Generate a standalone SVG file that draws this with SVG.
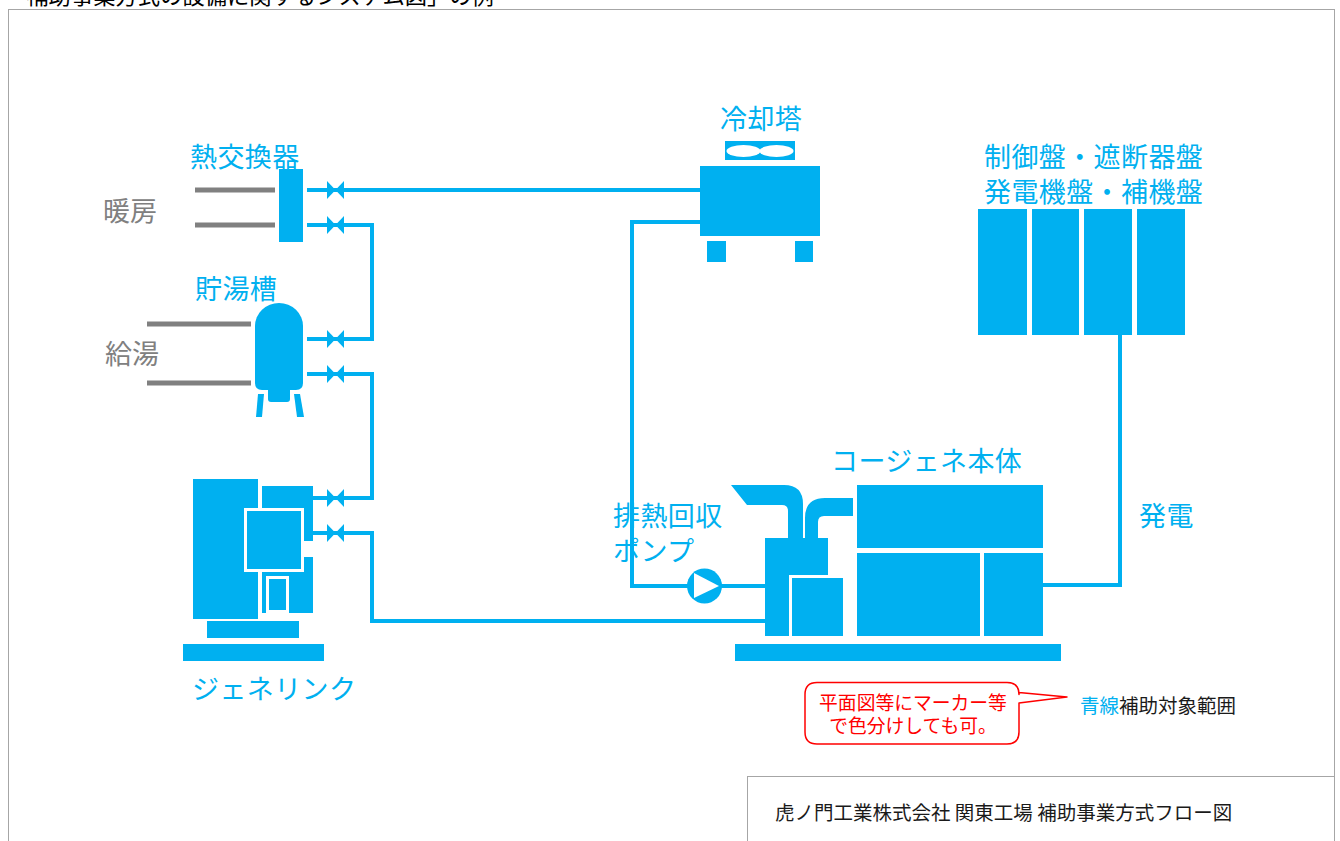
<svg xmlns="http://www.w3.org/2000/svg" width="1340" height="841" viewBox="0 0 1340 841">
  <style>
    .b { fill: #00b0f0; }
    .pipe { fill: none; stroke: #00b0f0; stroke-width: 4; }
    .gray { fill: none; stroke: #808080; stroke-width: 5; }
    .lbl { font-family: "Noto Sans CJK JP", sans-serif; font-size: 27px; letter-spacing: 0.4px; fill: #00b0f0; }
    .glbl { font-family: "Noto Sans CJK JP", sans-serif; font-size: 27px; fill: #808080; }
    .note { font-family: "Noto Sans CJK JP", sans-serif; font-size: 18.8px; fill: #ff0000; }
    .txt { font-family: "Noto Sans CJK JP", sans-serif; font-size: 19.5px; fill: #1a1a1a; }
    .wedge { stroke: #ffffff; stroke-width: 3; }
  </style>
  <defs>
    <!-- gate valve: two triangles meeting at the centre -->
    <g id="valve">
      <polygon class="b" points="-8.5,-9 -8.5,9 0,0"/>
      <polygon class="b" points="8.5,-9 8.5,9 0,0"/>
    </g>
  </defs>

  <rect width="1340" height="841" fill="#ffffff"/>

  <!-- page heading and frame -->
  <text x="4" y="4" font-family="Noto Sans CJK JP, sans-serif" font-size="22.3" fill="#000000">「補助事業方式の設備に関するシステム図」の例</text>
  <rect x="8.5" y="9.5" width="1326" height="850" fill="none" stroke="#a6a6a6" stroke-width="1"/>

  <!-- connectors -->
  <g id="connectors">
    <!-- heat exchanger upper line to cooling tower -->
    <line class="pipe" x1="307" y1="190" x2="701" y2="190"/>
    <!-- heat exchanger lower line to storage tank upper -->
    <polyline class="pipe" points="307,225 372,225 372,339 307,339"/>
    <!-- storage tank lower to genelink upper -->
    <polyline class="pipe" points="307,374 372,374 372,498 312,498"/>
    <!-- genelink lower to cogeneration -->
    <polyline class="pipe" points="300,533 372,533 372,621 792,621"/>
    <!-- cooling tower return via recovery pump -->
    <polyline class="pipe" points="701,222 632,222 632,586 766,586"/>
    <!-- generator output to switchgear -->
    <polyline class="pipe" points="1042,585 1120,585 1120,334"/>
    <!-- valves -->
    <use href="#valve" x="335.5" y="190"/>
    <use href="#valve" x="335.5" y="225"/>
    <use href="#valve" x="335.5" y="339"/>
    <use href="#valve" x="335.5" y="374"/>
    <use href="#valve" x="335.5" y="498"/>
    <use href="#valve" x="335.5" y="533"/>
  </g>

  <!-- heat exchanger -->
  <g id="heat-exchanger">
    <text class="lbl" x="190" y="167">熱交換器</text>
    <line class="gray" x1="195" y1="190" x2="275" y2="190"/>
    <line class="gray" x1="195" y1="225" x2="275" y2="225"/>
    <rect class="b" x="279" y="169" width="24" height="73"/>
    <text class="glbl" x="103" y="221">暖房</text>
  </g>

  <!-- hot water storage tank -->
  <g id="storage-tank">
    <text class="lbl" x="195" y="299">貯湯槽</text>
    <line class="gray" x1="147" y1="324" x2="251" y2="324"/>
    <line class="gray" x1="147" y1="383" x2="251" y2="383"/>
    <path class="b" d="M255,383 L255,326 A24,23 0 0 1 303,326 L303,383 Q303,390 296,390 L262,390 Q255,390 255,383 Z"/>
    <path class="b" d="M268,388 L290,388 L290,399 Q290,402 287,402 L271,402 Q268,402 268,399 Z"/>
    <polygon class="b" points="258,394 264,394 262,417 256,417"/>
    <polygon class="b" points="294,394 300,394 304,417 297,417"/>
    <text class="glbl" x="105" y="364">給湯</text>
  </g>

  <!-- absorption chiller-heater -->
  <g id="genelink">
    <rect class="b" x="193" y="479" width="65" height="140"/>
    <rect class="b" x="262" y="486" width="51" height="127"/>
    <rect x="303" y="541" width="11" height="16" fill="#ffffff"/>
    <rect class="b" x="300" y="531" width="13" height="6"/>
    <rect class="b wedge" x="245.5" y="509.5" width="57" height="61"/>
    <rect class="b wedge" x="267.5" y="577.5" width="20" height="34"/>
    <rect class="b" x="207" y="621" width="92" height="17"/>
    <rect class="b" x="183" y="644" width="141" height="17"/>
    <text class="lbl" x="192" y="699">ジェネリンク</text>
  </g>

  <!-- cooling tower -->
  <g id="cooling-tower">
    <text class="lbl" x="720" y="129">冷却塔</text>
    <rect class="b" x="725" y="141" width="70" height="19"/>
    <ellipse cx="743.5" cy="151" rx="17" ry="6" fill="#ffffff"/>
    <ellipse cx="776.5" cy="151" rx="17" ry="6" fill="#ffffff"/>
    <rect class="b" x="700" y="166" width="120" height="70"/>
    <rect class="b" x="707" y="241" width="19" height="21"/>
    <rect class="b" x="795" y="241" width="18" height="21"/>
  </g>

  <!-- exhaust heat recovery pump -->
  <g id="recovery-pump">
    <text class="lbl" x="613" y="526">排熱回収</text>
    <text class="lbl" x="613" y="561">ポンプ</text>
    <circle class="b" cx="704.5" cy="586" r="17.5"/>
    <polygon points="694,573 694,598 719,586" fill="#ffffff"/>
  </g>

  <!-- cogeneration unit -->
  <g id="cogeneration">
    <text class="lbl" x="831" y="471">コージェネ本体</text>
    <path class="b" d="M731,485 L784,485 Q803,485 803,504 L803,538 L788,538 L788,511 Q788,505 782,505 L747,505 Z"/>
    <path class="b" d="M853,498 L825,498 Q805,498 805,518 L805,538 L818,538 L818,522 Q818,516 824,516 L853,516 Z"/>
    <rect class="b" x="765" y="538" width="63" height="98"/>
    <rect class="b wedge" x="790.5" y="576.5" width="54" height="61"/>
    <rect class="b" x="857" y="485" width="186" height="63"/>
    <rect class="b" x="857" y="553" width="123" height="83"/>
    <rect class="b" x="984" y="553" width="59" height="83"/>
    <rect class="b" x="735" y="644" width="326" height="17"/>
    <text class="lbl" x="1139" y="526">発電</text>
  </g>

  <!-- control / switchgear / generator / auxiliary panels -->
  <g id="panels">
    <text class="lbl" x="984" y="167">制御盤・遮断器盤</text>
    <text class="lbl" x="984" y="202">発電機盤・補機盤</text>
    <rect class="b" x="978" y="209" width="49" height="126"/>
    <rect class="b" x="1032" y="209" width="47" height="126"/>
    <rect class="b" x="1084" y="209" width="48" height="126"/>
    <rect class="b" x="1137" y="209" width="48" height="126"/>
  </g>

  <!-- callout and legend -->
  <g id="callout">
    <path d="M817,682.5 L1007,682.5 Q1019,682.5 1019,694.5 L1019,692.5 L1067,697 L1019,703 L1019,732 Q1019,744 1007,744 L817,744 Q805,744 805,732 L805,694.5 Q805,682.5 817,682.5 Z" fill="#ffffff" stroke="#ff0000" stroke-width="1.5" stroke-linejoin="round"/>
    <text class="note" x="913" y="710" text-anchor="middle">平面図等にマーカー等</text>
    <text class="note" x="913" y="733" text-anchor="middle">で色分けしても可。</text>
  </g>
  <g id="legend">
    <text class="txt" x="1080" y="713"><tspan fill="#00b0f0">青線</tspan>補助対象範囲</text>
  </g>

  <!-- title block -->
  <g id="title-block">
    <rect x="747.5" y="776.5" width="587" height="80" fill="#ffffff" stroke="#a6a6a6" stroke-width="1"/>
    <text class="txt" x="775" y="820" font-size="18.5">虎ノ門工業株式会社 関東工場 補助事業方式フロー図</text>
  </g>
</svg>
